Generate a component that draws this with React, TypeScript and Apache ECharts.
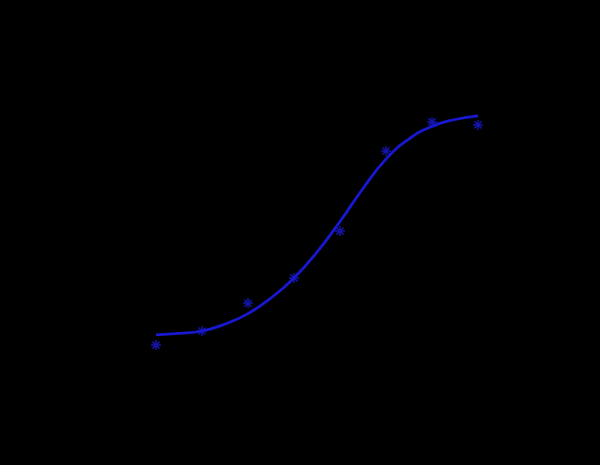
import React, { useRef, useEffect } from 'react';
import * as echarts from 'echarts';

// measured data points (x = dose step, y = response)
const pointX = [1, 2, 3, 4, 5, 6, 7, 8];
const pointY = [18.3, 23, 32.3, 40.7, 56.3, 83, 92.7, 91.7];

const fitX = [1, 1.5, 2, 2.5, 3, 3.5, 4, 4.5, 5, 5.5, 6, 6.5, 7, 7.5, 8];
const fitY = [21.7, 22.2, 23, 25.3, 28.8, 34, 40.7, 49.3, 59.5, 70.5, 80.3, 87, 91.2, 93.5, 94.7];

const lineColor = '#1818d0';
const asterisk = 'path://M0,-5L0,5M-5,0L5,0M-3.5,-3.5L3.5,3.5M-3.5,3.5L3.5,-3.5';

export default function App() {
  const chartRef = useRef<HTMLDivElement>(null);

  useEffect(() => {
    document.body.style.margin = '0';
    document.body.style.background = '#000';
    if (!chartRef.current) return;
    const chart = echarts.init(chartRef.current, null, { renderer: 'svg' });

    const option: echarts.EChartsOption = {
      animation: false,
      backgroundColor: '#000',
      grid: { left: 110, right: 76, top: 100, bottom: 65 },
      xAxis: { type: 'value', min: 0, max: 9, show: false },
      yAxis: { type: 'value', min: 0, max: 100, show: false },
      series: [
        {
          type: 'line',
          data: fitX.map((x, i) => [x, fitY[i]]),
          smooth: 0.5,
          symbol: 'none',
          lineStyle: { color: lineColor, width: 2.8 },
          z: 1
        },
        {
          type: 'scatter',
          data: pointX.map((x, i) => [x, pointY[i]]),
          symbol: asterisk,
          symbolSize: 10,
          itemStyle: { color: 'none', borderColor: lineColor, borderWidth: 1.5 },
          z: 2
        }
      ]
    };

    chart.setOption(option);
    return () => chart.dispose();
  }, []);

  return <div ref={chartRef} style={{ width: 600, height: 465 }} />;
}
